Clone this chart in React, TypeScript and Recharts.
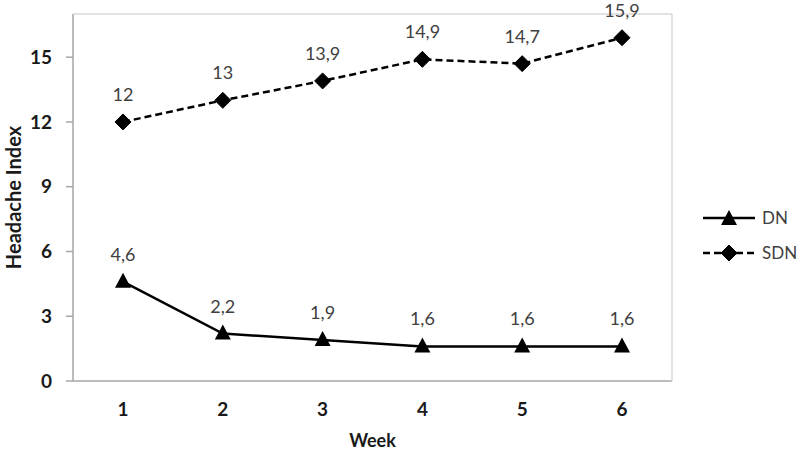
import { LineChart, Line, XAxis, YAxis, Legend, LabelList } from "recharts"

const weeks = ["1", "2", "3", "4", "5", "6"]
const dnValues = [4.6, 2.2, 1.9, 1.6, 1.6, 1.6]
const sdnValues = [12, 13, 13.9, 14.9, 14.7, 15.9]
const yTicks = [0, 3, 6, 9, 12, 15]

const series = [
  { key: "DN", name: "DN", dash: undefined as string | undefined, marker: "triangle" },
  { key: "SDN", name: "SDN", dash: "7 4", marker: "diamond" },
]

const data = weeks.map((w, i) => ({ week: w, DN: dnValues[i], SDN: sdnValues[i] }))

const FONT = "Lato, 'Open Sans', sans-serif"
const AXIS = "#a6a6a6"
const BORDER = "#d9d9d9"
const LABEL = "#404040"

function Triangle({ cx, cy }: any) {
  if (cx == null || cy == null) return null
  return <path d={`M${cx},${cy - 9} L${cx + 8},${cy + 6} L${cx - 8},${cy + 6} Z`} fill="#000" />
}

function Diamond({ cx, cy }: any) {
  if (cx == null || cy == null) return null
  return (
    <path
      d={`M${cx},${cy - 8} L${cx + 8},${cy} L${cx},${cy + 8} L${cx - 8},${cy} Z`}
      fill="#000"
      stroke="#000"
      strokeWidth={1}
      strokeLinejoin="round"
    />
  )
}

// decimal comma like the original
const fmt = (v: any) => String(v).replace(".", ",")

function LegendBox() {
  return (
    <div style={{ fontFamily: FONT, fontSize: 17, color: LABEL }}>
      {series.map((s) => (
        <div key={s.key} style={{ display: "flex", alignItems: "center", height: 35 }}>
          <svg width={58} height={20} style={{ display: "block" }}>
            <line x1={3} y1={10} x2={55} y2={10} stroke="#000" strokeWidth={2.5} strokeDasharray={s.dash} />
            {s.marker === "triangle" ? <Triangle cx={29} cy={11} /> : <Diamond cx={29} cy={10} />}
          </svg>
          <span style={{ marginLeft: 4 }}>{s.name}</span>
        </div>
      ))}
    </div>
  )
}

function YTitle({ viewBox }: any) {
  const cx = 13
  const cy = viewBox.y + viewBox.height / 2
  return (
    <text
      x={cx}
      y={cy}
      transform={`rotate(-90, ${cx}, ${cy})`}
      textAnchor="middle"
      dominantBaseline="central"
      fontFamily={FONT}
      fontWeight="bold"
      fontSize={20}
      fill="#1a1a1a"
    >
      Headache Index
    </text>
  )
}

export default function App() {
  return (
    <div style={{ position: "absolute", left: 0, top: 0, width: 800, height: 453, background: "#fff" }}>
      <LineChart width={800} height={453} data={data} margin={{ top: 13, right: 27, bottom: 0, left: 0 }}>
        <XAxis
          dataKey="week"
          height={72}
          padding={{ left: 50, right: 50 }}
          axisLine={{ stroke: AXIS, strokeWidth: 1.5 }}
          tickLine={false}
          tickSize={6}
          tickMargin={16}
          tick={{ fontFamily: FONT, fontSize: 19, fontWeight: "bold", fill: "#1a1a1a" }}
          label={{ value: "Week", position: "insideBottom", offset: 6, fontFamily: FONT, fontSize: 18, fontWeight: "bold", fill: "#1a1a1a" }}
        />
        <XAxis xAxisId="top" dataKey="week" orientation="top" height={1} padding={{ left: 50, right: 50 }} tick={false} tickLine={false} axisLine={{ stroke: BORDER, strokeWidth: 1.5 }} />
        <YAxis
          width={73}
          domain={[0, 17]}
          ticks={yTicks}
          interval={0}
          axisLine={{ stroke: AXIS, strokeWidth: 1.5 }}
          tickLine={{ stroke: AXIS, strokeWidth: 1.5 }}
          tickSize={7}
          tickMargin={14}
          tick={{ fontFamily: FONT, fontSize: 19, fontWeight: "bold", fill: "#1a1a1a" }}
          label={<YTitle />}
        />
        <YAxis yAxisId="right" orientation="right" width={1} domain={[0, 17]} tick={false} tickLine={false} axisLine={{ stroke: BORDER, strokeWidth: 1.5 }} />
        <Legend
          layout="vertical"
          align="right"
          verticalAlign="middle"
          content={() => <LegendBox />}
          wrapperStyle={{ left: 700, top: 200, width: 100, right: "auto" }}
        />
        <Line
          dataKey="DN"
          name="DN"
          stroke="#000"
          strokeWidth={2.5}
          dot={<Triangle />}
          activeDot={false}
          isAnimationActive={false}
        >
          <LabelList dataKey="DN" position="top" offset={21} formatter={fmt} fill={LABEL} fontFamily={FONT} fontSize={18} />
        </Line>
        <Line
          dataKey="SDN"
          name="SDN"
          stroke="#000"
          strokeWidth={2.5}
          strokeDasharray="7 4"
          dot={<Diamond />}
          activeDot={false}
          isAnimationActive={false}
        >
          <LabelList dataKey="SDN" position="top" offset={21} formatter={fmt} fill={LABEL} fontFamily={FONT} fontSize={18} />
        </Line>
      </LineChart>
    </div>
  )
}
